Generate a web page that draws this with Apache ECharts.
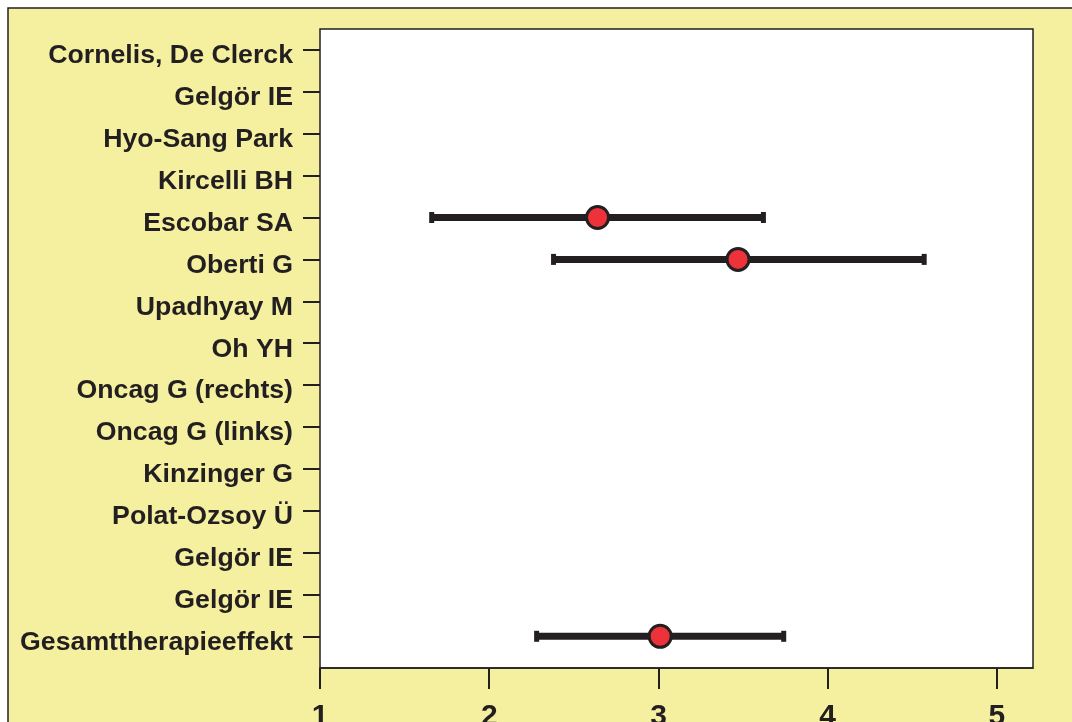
<!DOCTYPE html>
<html>
<head>
<meta charset="utf-8">
<script src="https://cdn.jsdelivr.net/npm/echarts@6/dist/echarts.min.js"></script>
<style>
  html, body { margin: 0; padding: 0; background: #fff; }
  #main { width: 1072px; height: 722px; }
</style>
</head>
<body>
<div id="main"></div>
<script>
// studies, top to bottom
var studies = ['Cornelis, De Clerck', 'Gelgör IE', 'Hyo-Sang Park', 'Kircelli BH', 'Escobar SA',
  'Oberti G', 'Upadhyay M', 'Oh YH', 'Oncag G (rechts)', 'Oncag G (links)', 'Kinzinger G',
  'Polat-Ozsoy Ü', 'Gelgör IE', 'Gelgör IE', 'Gesamttherapieeffekt'];
// only three rows have an effect drawn
var rowIndex = [4, 5, 14];
var effect = [2.64, 3.47, 3.01];
var lower = [1.66, 2.38, 2.28];
var upper = [3.62, 4.57, 3.74];
var xTicks = [1, 2, 3, 4, 5];

var ink = '#231f20';
var data = rowIndex.map(function (r, i) {
  return [effect[i], lower[i], upper[i], studies[r] + '#' + r];
});
var cats = studies.map(function (s, i) { return s + '#' + i; });

var chart = echarts.init(document.getElementById('main'));
chart.setOption({
  animation: false,
  graphic: [{
    type: 'rect', z: -100,
    shape: { x: 8, y: 8, width: 1200, height: 900 },
    style: { fill: '#f4f0a0', stroke: ink, lineWidth: 1.5 }
  }],
  grid: [
    { left: 320, top: 29, width: 713, height: 639, show: true, backgroundColor: '#fff',
      borderColor: ink, borderWidth: 1.5, outerBoundsMode: 'none', containLabel: false },
    { left: 320, top: 50, width: 713, height: 586.3, outerBoundsMode: 'none', containLabel: false }
  ],
  xAxis: [{
    gridIndex: 0, type: 'value', min: xTicks[0], max: 5.213, interval: 1,
    axisLine: { show: true, lineStyle: { color: ink, width: 1.5 } },
    axisTick: { show: true, inside: false, length: 21, lineStyle: { color: ink, width: 2 } },
    splitLine: { show: false },
    axisLabel: { margin: 34, color: ink, fontSize: 30, fontWeight: 'bold',
      fontFamily: 'Liberation Sans, Arial, sans-serif', showMaxLabel: false,
      formatter: function (v) { return xTicks.indexOf(v) >= 0 ? String(v) : ''; } }
  }, {
    gridIndex: 1, type: 'value', min: 1, max: 5.213, show: false
  }],
  yAxis: [{
    gridIndex: 0, type: 'value', show: false
  }, {
    gridIndex: 1, type: 'category', data: cats, inverse: true, boundaryGap: false,
    axisLine: { show: false },
    axisTick: { show: true, inside: false, length: 17, lineStyle: { color: ink, width: 2 } },
    axisLabel: { margin: 27, interval: 0,
      formatter: function (v) { return '{l|' + v.split('#')[0] + '}'; },
      rich: { l: { color: ink, fontSize: 26.7, fontWeight: 'bold',
        fontFamily: 'Liberation Sans, Arial, sans-serif', padding: [12, 0, 0, 0] } } }
  }],
  series: [{
    type: 'custom',
    xAxisIndex: 1, yAxisIndex: 1,
    encode: { x: [0, 1, 2], y: 3 },
    data: data,
    renderItem: function (params, api) {
      var y = api.value(3);
      var pLo = api.coord([api.value(1), y]);
      var pHi = api.coord([api.value(2), y]);
      var pMid = api.coord([api.value(0), y]);
      return {
        type: 'group',
        children: [
          { type: 'line', shape: { x1: pLo[0], y1: pLo[1], x2: pHi[0], y2: pHi[1] },
            style: { stroke: ink, lineWidth: 7 } },
          { type: 'rect', shape: { x: pLo[0] - 2.5, y: pLo[1] - 5.5, width: 5, height: 11 },
            style: { fill: ink } },
          { type: 'rect', shape: { x: pHi[0] - 2.5, y: pHi[1] - 5.5, width: 5, height: 11 },
            style: { fill: ink } },
          { type: 'circle', shape: { cx: pMid[0], cy: pMid[1], r: 11 },
            style: { fill: '#ee3239', stroke: ink, lineWidth: 3 } }
        ]
      };
    }
  }]
});
</script>
</body>
</html>
